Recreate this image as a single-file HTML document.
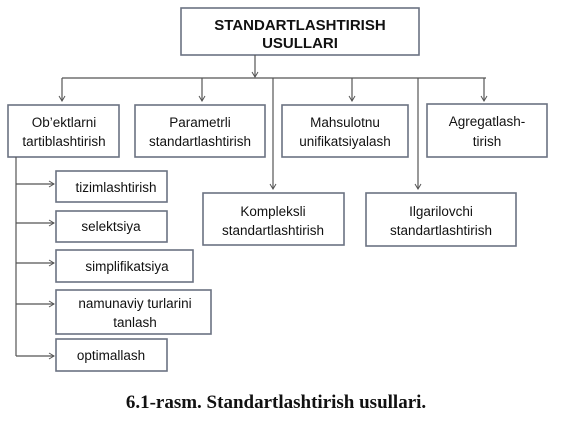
<!DOCTYPE html>
<html><head><meta charset="utf-8"><style>
html,body{margin:0;padding:0;background:#fff;}
svg{display:block}
text{font-family:"Liberation Sans",sans-serif;font-size:13.5px;fill:#111;text-anchor:middle}
</style></head><body>
<svg width="561" height="425" viewBox="0 0 561 425" xmlns="http://www.w3.org/2000/svg">
<defs><marker id="a" markerWidth="8" markerHeight="8" refX="6" refY="4" orient="auto" markerUnits="userSpaceOnUse"><path d="M1,1 L6,4 L1,7" fill="none" stroke="#555" stroke-width="1"/></marker></defs>
<g fill="#fff" stroke="#6b7282" stroke-width="1.6">
<rect x="181" y="8" width="238" height="47"/>
<rect x="8" y="105" width="111" height="52"/>
<rect x="135" y="105" width="130" height="52"/>
<rect x="282" y="105" width="126" height="52"/>
<rect x="427" y="104" width="120" height="53"/>
<rect x="203" y="193" width="141" height="52"/>
<rect x="366" y="193" width="150" height="53"/>
<rect x="56" y="171" width="111" height="31"/>
<rect x="56" y="211" width="111" height="31"/>
<rect x="56" y="250" width="137" height="32"/>
<rect x="56" y="290" width="155" height="44"/>
<rect x="56" y="339" width="111" height="32"/>
</g>
<g stroke="#555" stroke-width="1.2" fill="none">
<line x1="255" y1="55" x2="255" y2="77" marker-end="url(#a)"/>
<line x1="62" y1="78" x2="486" y2="78"/>
<line x1="62" y1="78" x2="62" y2="101" marker-end="url(#a)"/>
<line x1="202" y1="78" x2="202" y2="101" marker-end="url(#a)"/>
<line x1="352" y1="78" x2="352" y2="101" marker-end="url(#a)"/>
<line x1="484" y1="78" x2="484" y2="101" marker-end="url(#a)"/>
<line x1="273" y1="78" x2="273" y2="189" marker-end="url(#a)"/>
<line x1="418" y1="78" x2="418" y2="189" marker-end="url(#a)"/>
<line x1="16" y1="157" x2="16" y2="356"/>
<line x1="16" y1="184" x2="54" y2="184" marker-end="url(#a)"/>
<line x1="16" y1="223" x2="54" y2="223" marker-end="url(#a)"/>
<line x1="16" y1="263" x2="54" y2="263" marker-end="url(#a)"/>
<line x1="16" y1="304" x2="54" y2="304" marker-end="url(#a)"/>
<line x1="16" y1="356" x2="54" y2="356" marker-end="url(#a)"/>
</g>
<text x="300" y="30" style="font-weight:bold;font-size:15px">STANDARTLASHTIRISH</text>
<text x="300" y="48" style="font-weight:bold;font-size:15px">USULLARI</text>
<text x="64" y="127">Ob’ektlarni</text><text x="64" y="146">tartiblashtirish</text>
<text x="200" y="127">Parametrli</text><text x="200" y="146">standartlashtirish</text>
<text x="345" y="127">Mahsulotnu</text><text x="345" y="146">unifikatsiyalash</text>
<text x="487" y="126">Agregatlash-</text><text x="487" y="146">tirish</text>
<text x="273" y="216">Kompleksli</text><text x="273" y="235">standartlashtirish</text>
<text x="441" y="216">Ilgarilovchi</text><text x="441" y="235">standartlashtirish</text>
<text x="116" y="192">tizimlashtirish</text>
<text x="111" y="231">selektsiya</text>
<text x="127" y="271">simplifikatsiya</text>
<text x="135" y="308">namunaviy  turlarini</text><text x="135" y="327">tanlash</text>
<text x="111" y="360">optimallash</text>
<text x="276" y="408" style="font-family:'Liberation Serif',serif;font-weight:bold;font-size:19px">6.1-rasm. Standartlashtirish usullari.</text>
</svg>
</body></html>
